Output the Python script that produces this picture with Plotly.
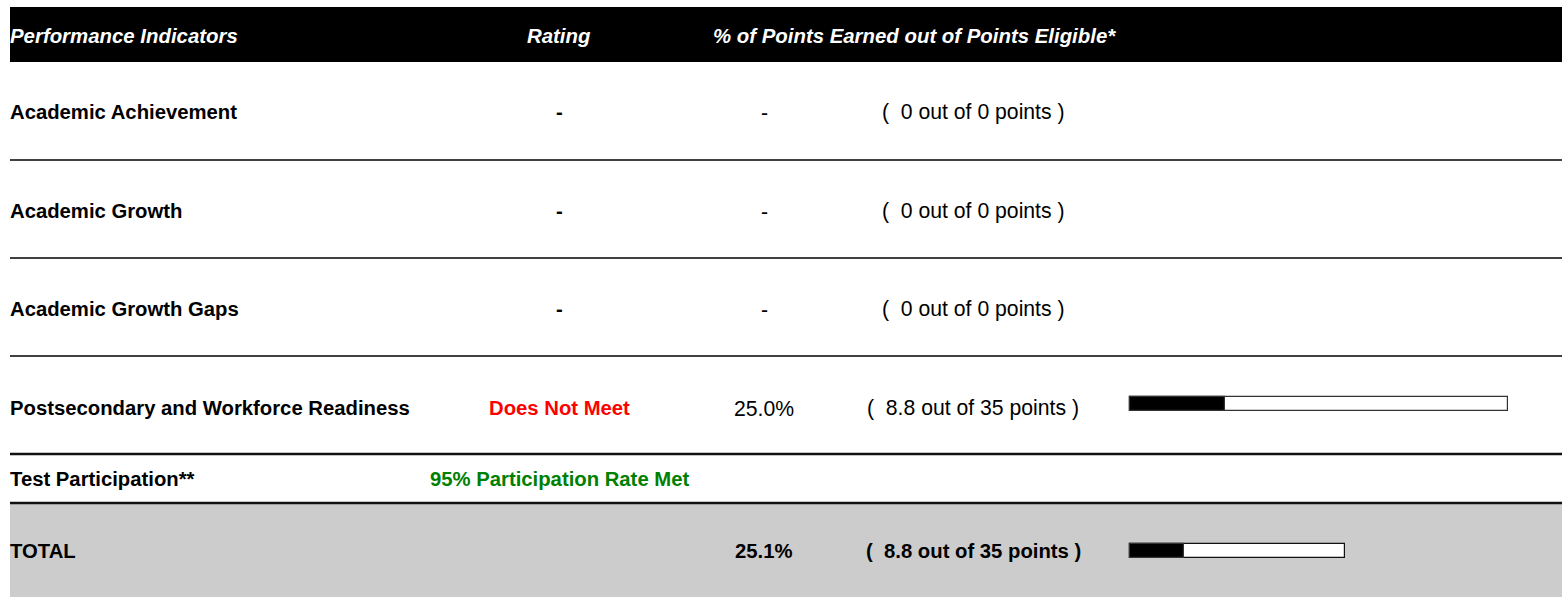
import plotly.graph_objects as go

# ---- data ----
header_labels = ["Performance Indicators", "Rating", "% of Points Earned out of Points Eligible*"]
indicators = ["Academic Achievement", "Academic Growth", "Academic Growth Gaps",
              "Postsecondary and Workforce Readiness"]
ratings = ["-", "-", "-", "Does Not Meet"]
rating_colors = ["#000000", "#000000", "#000000", "#ff0000"]
pct_earned = [None, None, None, 25.0]
points_earned = [0, 0, 0, 8.8]
points_eligible = [0, 0, 0, 35]
participation_label = "Test Participation**"
participation_rating = "95% Participation Rate Met"
total_label = "TOTAL"
total_pct = 25.1
total_earned = 8.8
total_eligible = 35

FONT = "Liberation Sans, Arial, sans-serif"
W, H = 1562, 597
LEFT = 10
TX = 8          # left text anchor (annotation adds 2px padding)
BOLD = 20.3
REG = 21.2
HDR = 20.4
RATING_X = 559
PCT_X = 764
PTS_X = 973

fig = go.Figure()
shapes = []
ann = []

# header band
shapes.append(dict(type="rect", x0=LEFT, x1=W, y0=7, y1=62, fillcolor="#000000", line_width=0, layer="below"))
hdr_y = 36
hf = dict(family=FONT, size=HDR, color="#ffffff")
ann.append(dict(x=TX, y=hdr_y, text="<b><i>%s</i></b>" % header_labels[0], xanchor="left", font=hf))
ann.append(dict(x=RATING_X, y=hdr_y, text="<b><i>%s</i></b>" % header_labels[1], xanchor="center", font=hf))
ann.append(dict(x=914, y=hdr_y, text="<b><i>%s</i></b>" % header_labels[2], xanchor="center", font=hf))

row_y = [112, 211, 309, 408]
sep_y = [160, 258, 356]
bar_full = 378
bar_x0 = 1130


def fmt(v):
    return "%g" % v


for i, name in enumerate(indicators):
    y = row_y[i]
    ann.append(dict(x=TX, y=y, text="<b>%s</b>" % name, xanchor="left",
                    font=dict(family=FONT, size=BOLD, color="#000000")))
    ann.append(dict(x=RATING_X, y=y, text="<b>%s</b>" % ratings[i], xanchor="center",
                    font=dict(family=FONT, size=BOLD, color=rating_colors[i])))
    ptxt = "-" if pct_earned[i] is None else "%.1f%%" % pct_earned[i]
    ann.append(dict(x=PCT_X, y=y, text=ptxt, xanchor="center",
                    font=dict(family=FONT, size=REG, color="#000000")))
    ann.append(dict(x=PTS_X, y=y, text="(  %s out of %s points )" % (fmt(points_earned[i]), fmt(points_eligible[i])),
                    xanchor="center", font=dict(family=FONT, size=REG, color="#000000")))
    if pct_earned[i] is not None:
        by = y - 4
        fig.add_trace(go.Bar(orientation="h", y=[by], x=[bar_full], base=[bar_x0], width=[14],
                             marker=dict(color="#ffffff", line=dict(color="#333333", width=1.2)),
                             hoverinfo="skip", showlegend=False))
        fig.add_trace(go.Bar(orientation="h", y=[by], x=[pct_earned[i] / 100 * bar_full], base=[bar_x0], width=[14],
                             marker=dict(color="#000000", line=dict(color="#333333", width=1.2)),
                             hoverinfo="skip", showlegend=False))

for y in sep_y:
    shapes.append(dict(type="line", x0=LEFT, x1=W, y0=y, y1=y, line=dict(color="#000000", width=1.4)))
shapes.append(dict(type="line", x0=LEFT, x1=W, y0=454, y1=454, line=dict(color="#111111", width=2.5)))

# participation row
ann.append(dict(x=TX, y=479, text="<b>%s</b>" % participation_label, xanchor="left",
                font=dict(family=FONT, size=BOLD, color="#000000")))
ann.append(dict(x=RATING_X, y=479, text="<b>%s</b>" % participation_rating, xanchor="center",
                font=dict(family=FONT, size=BOLD, color="#008000")))

# total band
shapes.append(dict(type="rect", x0=LEFT, x1=W, y0=503, y1=H, fillcolor="#cccccc", line_width=0, layer="below"))
shapes.append(dict(type="line", x0=LEFT, x1=W, y0=503, y1=503, line=dict(color="#111111", width=2.5)))
ty = 551
ann.append(dict(x=TX, y=ty, text="<b>%s</b>" % total_label, xanchor="left",
                font=dict(family=FONT, size=BOLD, color="#000000")))
ann.append(dict(x=PCT_X, y=ty, text="<b>%.1f%%</b>" % total_pct, xanchor="center",
                font=dict(family=FONT, size=BOLD, color="#000000")))
ann.append(dict(x=PTS_X, y=ty, text="<b>(  %s out of %s points )</b>" % (fmt(total_earned), fmt(total_eligible)),
                xanchor="center", font=dict(family=FONT, size=BOLD, color="#000000")))
tot_full = 215
fig.add_trace(go.Bar(orientation="h", y=[ty], x=[tot_full], base=[bar_x0], width=[14],
                     marker=dict(color="#ffffff", line=dict(color="#111111", width=1.2)),
                     hoverinfo="skip", showlegend=False))
fig.add_trace(go.Bar(orientation="h", y=[ty], x=[total_pct / 100 * tot_full], base=[bar_x0], width=[14],
                     marker=dict(color="#000000", line=dict(color="#333333", width=1.2)),
                     hoverinfo="skip", showlegend=False))

for a in ann:
    a.update(xref="x", yref="y", showarrow=False, yanchor="middle")

fig.update_layout(
    width=W, height=H, margin=dict(l=0, r=0, t=0, b=0),
    paper_bgcolor="#ffffff", plot_bgcolor="#ffffff",
    barmode="overlay", bargap=0,
    xaxis=dict(range=[0, W], visible=False, fixedrange=True),
    yaxis=dict(range=[H, 0], visible=False, fixedrange=True),
    shapes=shapes, annotations=ann,
)

fig.write_html("out.html", config={"displayModeBar": False},
               post_script="document.body.style.margin='0';")
